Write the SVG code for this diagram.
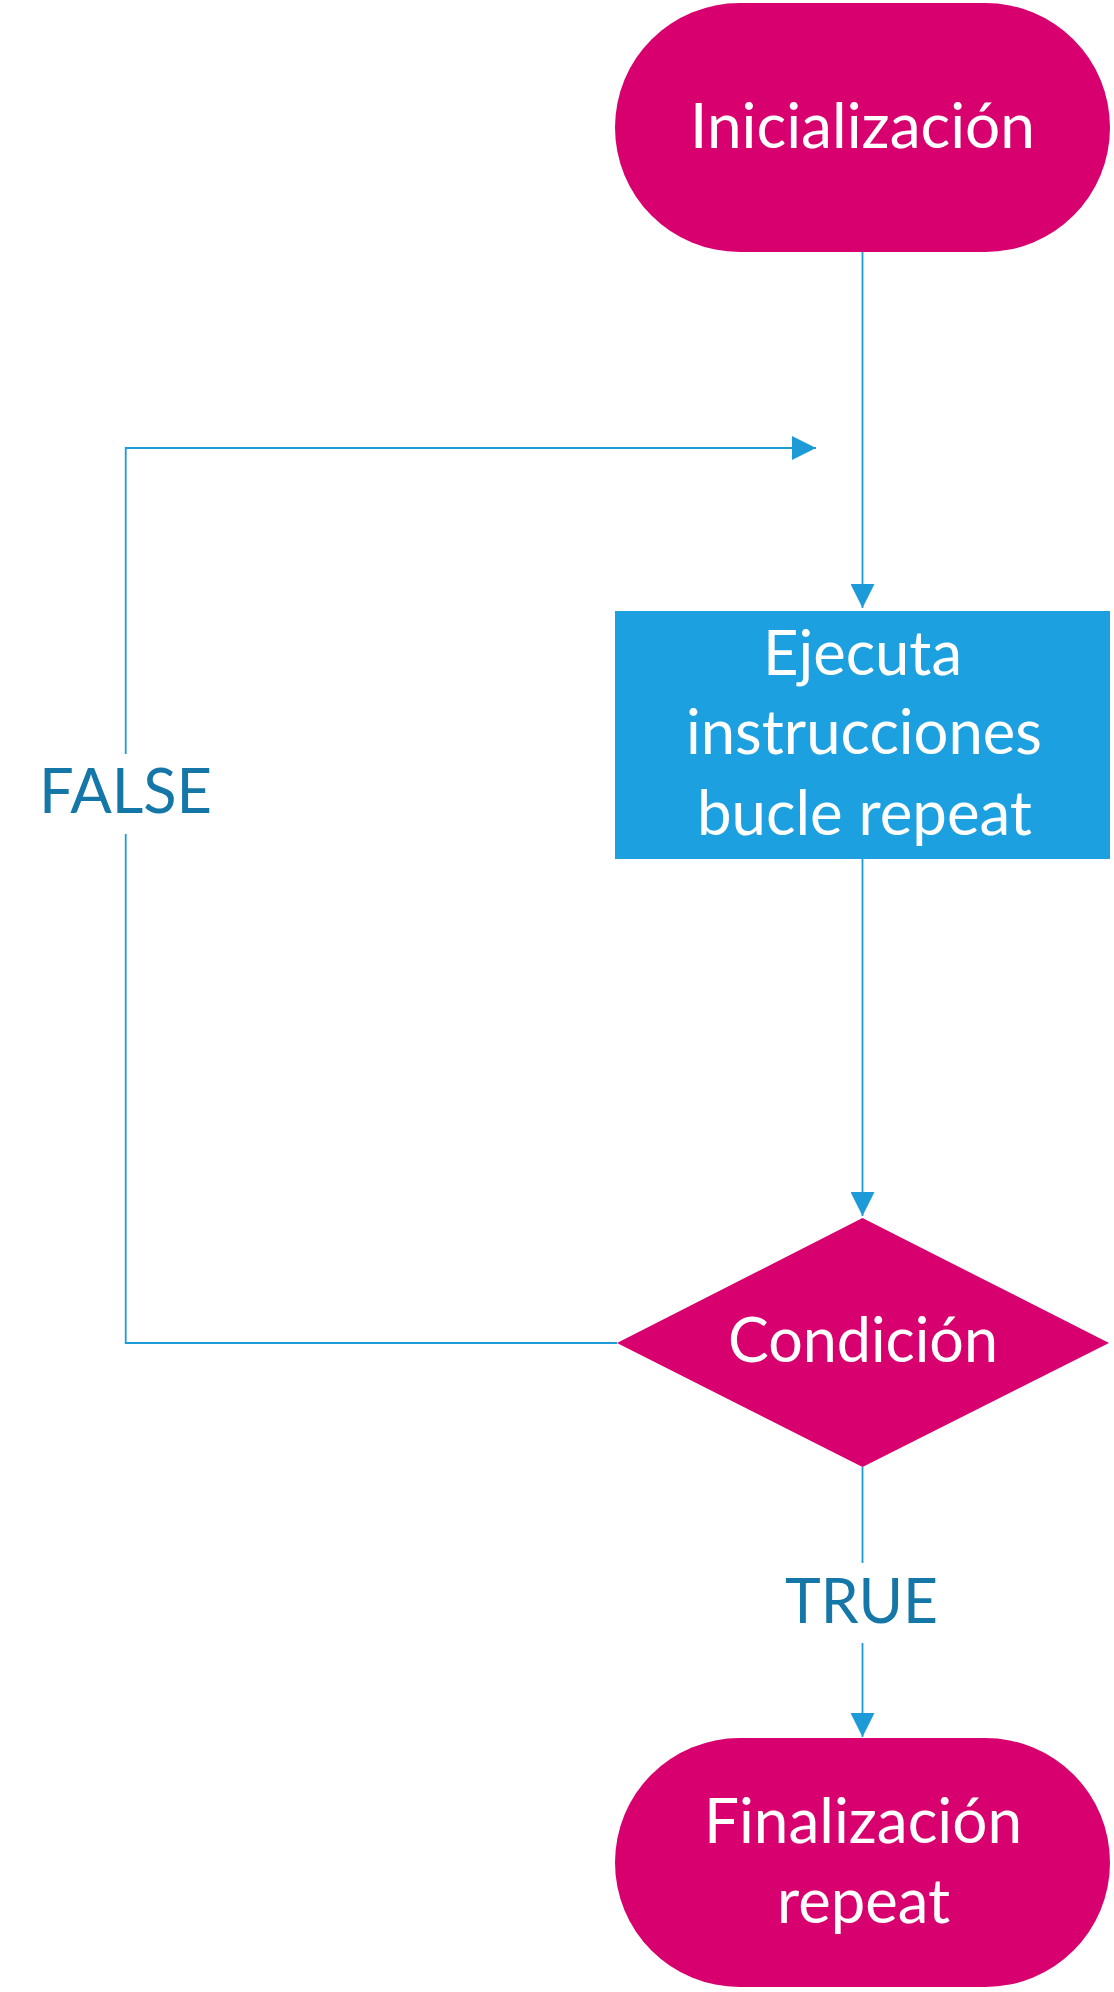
<svg xmlns="http://www.w3.org/2000/svg" width="1114" height="1992" viewBox="0 0 1114 1992">
<defs>
<style>
.node{fill:#D8006F}
.proc{fill:#1DA0E0}
.nt{font-family:Lato,"Open Sans",sans-serif;font-size:62px;fill:#ffffff;text-anchor:middle}
.lbl{font-family:Lato,"Open Sans",sans-serif;font-size:62px;fill:#1577A8;text-anchor:middle}
.edge{fill:none;stroke:#1D9BD9;stroke-width:1.8}
</style>
<marker id="arr" viewBox="0 0 24 24" refX="24" refY="12" markerWidth="24" markerHeight="24" markerUnits="userSpaceOnUse" orient="auto">
<path d="M0,0 L24,12 L0,24 Z" fill="#1D9BD9"/>
</marker>
</defs>
<rect width="1114" height="1992" fill="#ffffff"/>
<g id="connectors">
<path class="edge" d="M862.5,252 V608" marker-end="url(#arr)"/>
<path class="edge" d="M862.5,859 V1216" marker-end="url(#arr)"/>
<path class="edge" d="M862.5,1467 V1563"/>
<path class="edge" d="M862.5,1643 V1737" marker-end="url(#arr)"/>
<path class="edge" d="M617,1343 H125.7 V834"/>
<path class="edge" d="M125.7,754 V448 H816" marker-end="url(#arr)"/>
</g>
<g id="n-init">
<rect class="node" x="615" y="3" width="495" height="249" rx="124.5" ry="124.5"/>
<text class="nt" x="862.5" y="148" textLength="345" lengthAdjust="spacingAndGlyphs">Inicialización</text>
</g>
<g id="n-exec">
<rect class="proc" x="615" y="611" width="495" height="248"/>
<text class="nt" x="862.5" y="675" textLength="199" lengthAdjust="spacingAndGlyphs">Ejecuta</text>
<text class="nt" x="864" y="754" textLength="356" lengthAdjust="spacingAndGlyphs">instrucciones</text>
<text class="nt" x="864.5" y="835" textLength="335" lengthAdjust="spacingAndGlyphs">bucle repeat</text>
</g>
<g id="n-cond">
<polygon class="node" points="862.5,1218 1109,1343 862.5,1467 617,1343"/>
<text class="nt" x="863" y="1362" textLength="270" lengthAdjust="spacingAndGlyphs">Condición</text>
</g>
<g id="n-end">
<rect class="node" x="615" y="1738" width="495" height="249" rx="124.5" ry="124.5"/>
<text class="nt" x="863" y="1843" textLength="318" lengthAdjust="spacingAndGlyphs">Finalización</text>
<text class="nt" x="863.5" y="1923" textLength="173" lengthAdjust="spacingAndGlyphs">repeat</text>
</g>
<g id="labels">
<text class="lbl" x="125.5" y="813" textLength="173" lengthAdjust="spacingAndGlyphs">FALSE</text>
<text class="lbl" x="861.5" y="1623" textLength="153" lengthAdjust="spacingAndGlyphs">TRUE</text>
</g>
</svg>
